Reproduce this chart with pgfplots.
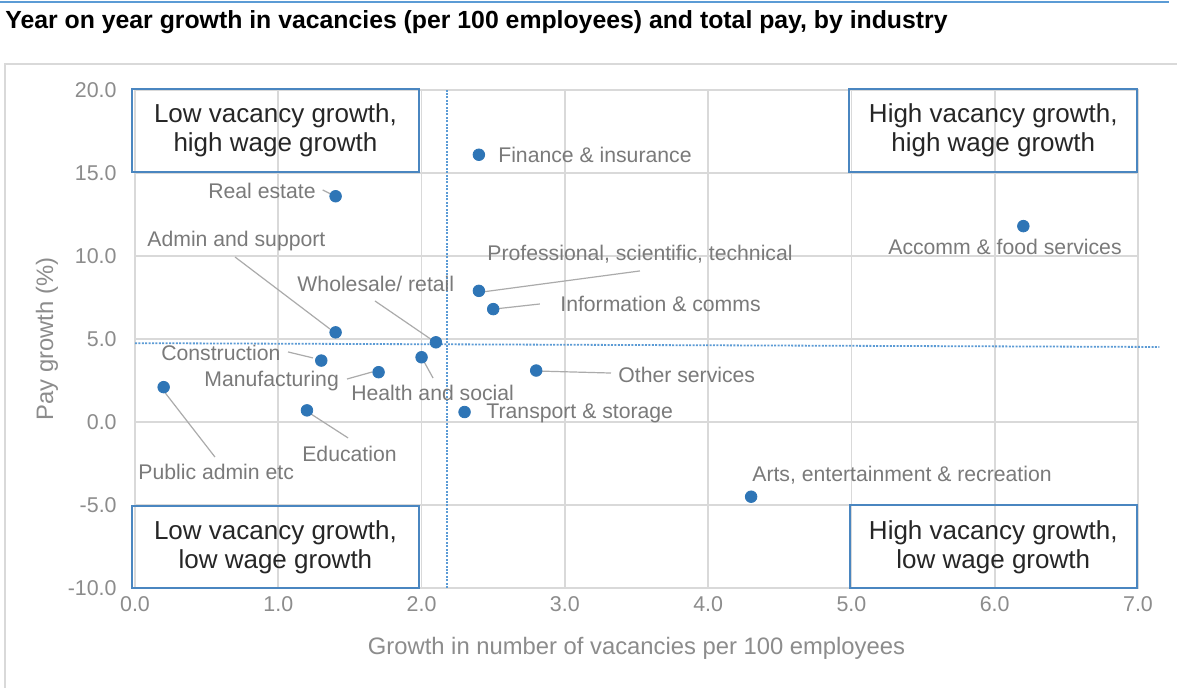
\documentclass[border=0pt]{standalone}
\usepackage{fontspec}
\setmainfont{Liberation Sans}
\usepackage{pgfplots}
\pgfplotsset{compat=1.18}
\definecolor{dotblue}{HTML}{2E75B6}
\definecolor{boxblue}{HTML}{4A86C0}
\definecolor{refblue}{HTML}{5B9BD5}
\definecolor{gridgray}{HTML}{D9D9D9}
\definecolor{lblgray}{HTML}{7A7A7A}
\definecolor{tickgray}{HTML}{8C8C8C}
\definecolor{leadgray}{HTML}{ABABAB}
\definecolor{boxtext}{HTML}{262626}
\newcommand{\lblfont}{\fontsize{10.6bp}{12.7bp}\selectfont}
\newcommand{\tickfont}{\fontsize{10.7bp}{12.8bp}\selectfont}
\newcommand{\axfont}{\fontsize{11.9bp}{14.2bp}\selectfont}
\newcommand{\boxfont}{\fontsize{13bp}{14.5bp}\selectfont}
\begin{document}
\begin{tikzpicture}
\useasboundingbox (0,0) rectangle (588.5bp,344bp);
\fill[white] (0,0) rectangle (588.5bp,344bp);
\draw[refblue, line width=1bp] (0,343bp) -- (584.5bp,343bp);
\node[anchor=base west, inner sep=0pt, font=\fontsize{12.4bp}{14.8bp}\selectfont\bfseries] at (2.5bp,329.5bp) {Year on year growth in vacancies (per 100 employees) and total pay, by industry};
\draw[gridgray, line width=0.8bp] (2.5bp,0) -- (2.5bp,312bp) -- (588.5bp,312bp);
\begin{axis}[
  at={(67.5bp,50bp)}, anchor=south west,
  scale only axis, width=501.5bp, height=249bp,
  xmin=0, xmax=7, ymin=-10, ymax=20,
  xtick={0,1,...,7}, ytick={-10,-5,...,20},
  grid=major, major grid style={gridgray, line width=0.8bp},
  axis line style={gridgray, line width=0.8bp},
  major tick length=0pt,
  tick label style={font=\tickfont, text=tickgray},
  /pgf/number format/.cd, fixed, fixed zerofill, precision=1, assume math mode=true, /pgfplots/.cd,
  yticklabel style={anchor=east, inner sep=0pt, xshift=-9bp},
  xticklabel style={anchor=north, inner sep=0pt, yshift=-4.3bp},
  xlabel={Growth in number of vacancies per 100 employees},
  ylabel={Pay growth (\%)},
  label style={font=\axfont, text=tickgray, inner sep=0pt},
  xlabel style={at={(axis description cs:0.5,-0.1345)}, anchor=base},
  ylabel style={at={(axis description cs:-0.0877,0.5)}, anchor=center},
  clip=false,
]
% reference lines
\addplot[draw=refblue, line width=0.9bp, dash pattern=on 1bp off 0.7bp] coordinates {(2.18,-10) (2.18,20)};
\addplot[draw=refblue, line width=0.9bp, dash pattern=on 1bp off 0.7bp] coordinates {(0,4.75) (7.15,4.52)};
% leader lines
\draw[leadgray, line width=0.6bp] (axis cs:1.31,13.98) -- (axis cs:1.38,13.67);
\draw[leadgray, line width=0.6bp] (axis cs:0.698,9.94) -- (axis cs:1.361,5.60);
\draw[leadgray, line width=0.6bp] (axis cs:1.675,7.29) -- (axis cs:2.073,4.94);
\draw[leadgray, line width=0.6bp] (axis cs:1.068,4.22) -- (axis cs:1.242,3.86);
\draw[leadgray, line width=0.6bp] (axis cs:1.480,2.59) -- (axis cs:1.654,3.01);
\draw[leadgray, line width=0.6bp] (axis cs:2.080,2.65) -- (axis cs:2.003,3.86);
\draw[leadgray, line width=0.6bp] (axis cs:0.558,-2.11) -- (axis cs:0.195,1.93);
\draw[leadgray, line width=0.6bp] (axis cs:1.487,-0.96) -- (axis cs:1.207,0.60);
\draw[leadgray, line width=0.6bp] (axis cs:3.524,9.10) -- (axis cs:2.422,7.83);
\draw[leadgray, line width=0.6bp] (axis cs:2.826,7.11) -- (axis cs:2.512,6.81);
\draw[leadgray, line width=0.6bp] (axis cs:3.322,2.95) -- (axis cs:2.812,3.07);
% data
\addplot[only marks, mark=*, mark size=2.9bp, color=dotblue, mark options={draw=dotblue, fill=dotblue}] coordinates {
  (2.4,16.1) (1.4,13.6) (6.2,11.8) (2.4,7.9) (2.5,6.8) (1.4,5.4) (2.1,4.8)
  (2.0,3.9) (1.3,3.7) (1.7,3.0) (2.8,3.1) (0.2,2.1) (1.2,0.7) (2.3,0.6) (4.3,-4.5)
};
% labels
\begin{scope}[every node/.style={anchor=west, inner sep=0pt, font=\lblfont, text=lblgray}]
\node at (axis cs:2.533,16.08) {Finance \& insurance};
\node at (axis cs:0.509,13.92) {Real estate};
\node at (axis cs:0.084,10.90) {Admin and support};
\node at (axis cs:2.457,10.12) {Professional, scientific, technical};
\node at (axis cs:5.255,10.54) {Accomm \& food services};
\node at (axis cs:1.131,8.31) {Wholesale/ retail};
\node at (axis cs:2.966,7.11) {Information \& comms};
\node at (axis cs:0.181,4.16) {Construction};
\node at (axis cs:0.482,2.47) {Manufacturing};
\node at (axis cs:1.507,1.75) {Health and social};
\node at (axis cs:3.371,2.83) {Other services};
\node at (axis cs:2.45,0.54) {Transport \& storage};
\node at (axis cs:0.021,-3.01) {Public admin etc};
\node at (axis cs:1.165,-1.93) {Education};
\node at (axis cs:4.306,-3.19) {Arts, entertainment \& recreation};
\end{scope}
% quadrant boxes
\draw[boxblue, line width=1bp] (axis cs:-0.02,15.08) rectangle (axis cs:1.98,20.05);
\draw[boxblue, line width=1bp] (axis cs:4.985,15.06) rectangle (axis cs:6.99,20.08);
\draw[boxblue, line width=1bp] (axis cs:-0.02,-10) rectangle (axis cs:1.98,-5.05);
\draw[boxblue, line width=1bp] (axis cs:4.99,-10) rectangle (axis cs:6.99,-5.0);
\begin{scope}[every node/.style={align=center, inner sep=0pt, font=\boxfont, text=boxtext}]
\node at (axis cs:0.98,17.55) {Low vacancy growth,\\high wage growth};
\node at (axis cs:5.99,17.55) {High vacancy growth,\\high wage growth};
\node at (axis cs:0.98,-7.55) {Low vacancy growth,\\low wage growth};
\node at (axis cs:5.99,-7.55) {High vacancy growth,\\low wage growth};
\end{scope}
\end{axis}
\end{tikzpicture}
\end{document}
